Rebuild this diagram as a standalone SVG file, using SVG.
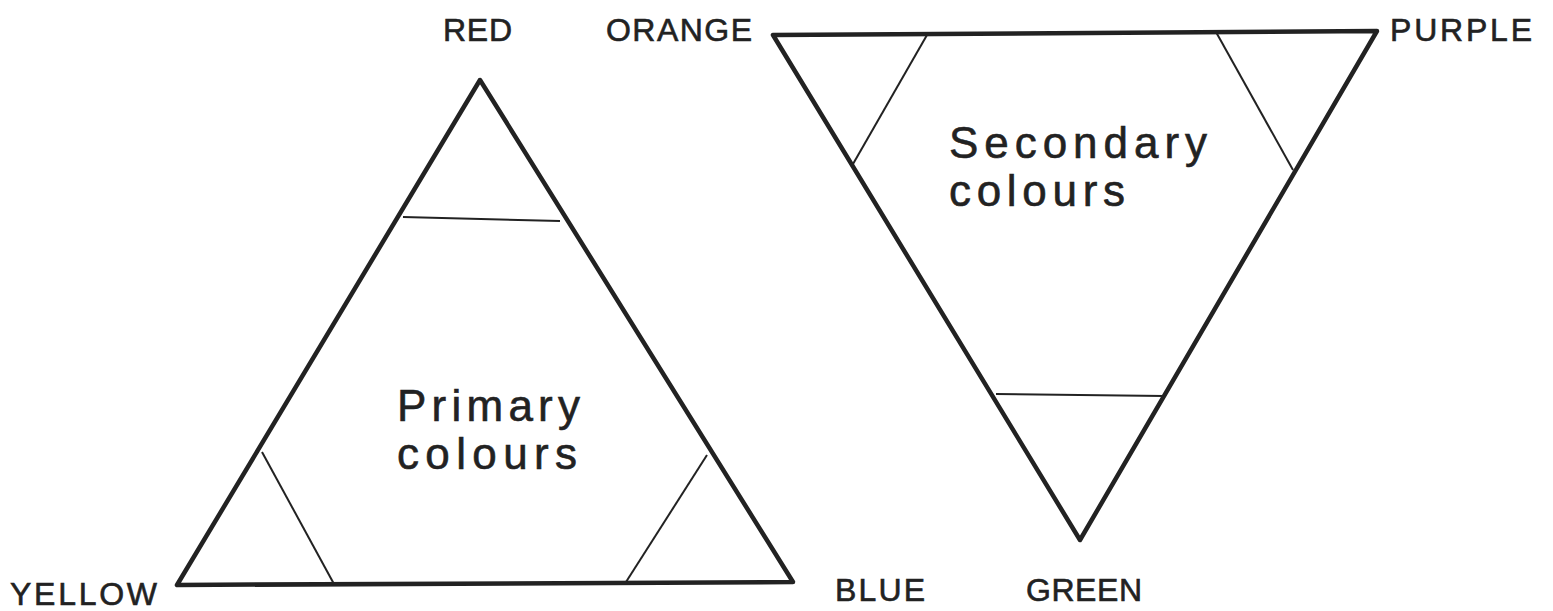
<svg xmlns="http://www.w3.org/2000/svg" width="1553" height="611" viewBox="0 0 1553 611">
<style>
.tri{fill:none;stroke:#222;stroke-width:4.5;stroke-linejoin:round}
.cut{stroke:#222;stroke-width:2;fill:none}
.lbl{font-family:"Liberation Sans",Arial,sans-serif;font-size:32px;fill:#222;stroke:#222;stroke-width:0.6}
.big{font-family:"Liberation Sans",Arial,sans-serif;font-size:44px;fill:#222;stroke:#222;stroke-width:0.6}
</style>
<rect width="1553" height="611" fill="#fff"/>
<g id="primary">
<polygon class="tri" points="480,80 177,585 793,582"/>
<line class="cut" x1="403" y1="217" x2="560" y2="221"/>
<line class="cut" x1="262" y1="452" x2="334" y2="584"/>
<line class="cut" x1="626" y1="582" x2="707" y2="455"/>
<text class="big" x="397" y="421" textLength="183" lengthAdjust="spacing">Primary</text>
<text class="big" x="397" y="469" textLength="180" lengthAdjust="spacing">colours</text>
</g>
<g id="secondary">
<polygon class="tri" points="773,35 1377,31 1080,540"/>
<line class="cut" x1="927" y1="35" x2="853" y2="164"/>
<line class="cut" x1="1216" y1="32" x2="1293" y2="170"/>
<line class="cut" x1="996" y1="394" x2="1164" y2="396"/>
<text class="big" x="949" y="158" textLength="258" lengthAdjust="spacing">Secondary</text>
<text class="big" x="949" y="206" textLength="176" lengthAdjust="spacing">colours</text>
</g>
<g id="labels">
<text id="red" class="lbl" x="443" y="41" textLength="69" lengthAdjust="spacing">RED</text>
<text id="orange" class="lbl" x="606" y="41" textLength="146" lengthAdjust="spacing">ORANGE</text>
<text id="purple" class="lbl" x="1390" y="41" textLength="142" lengthAdjust="spacing">PURPLE</text>
<text id="yellow" class="lbl" x="10" y="605" textLength="147" lengthAdjust="spacing">YELLOW</text>
<text id="blue" class="lbl" x="835" y="601" textLength="90" lengthAdjust="spacing">BLUE</text>
<text id="green" class="lbl" x="1026" y="601" textLength="116" lengthAdjust="spacing">GREEN</text>
</g>
</svg>
